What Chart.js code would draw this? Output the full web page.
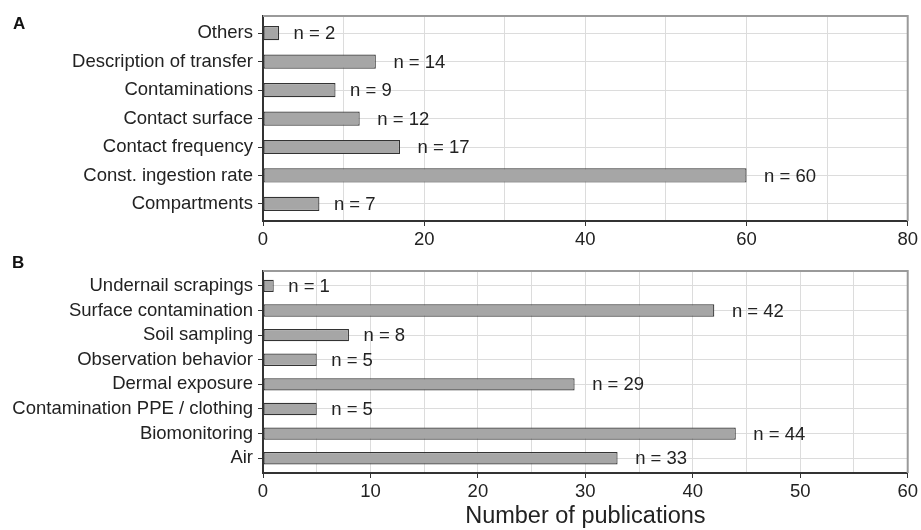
<!DOCTYPE html>
<html>
<head>
<meta charset="utf-8">
<script src="https://cdn.jsdelivr.net/npm/chart.js@4"></script>
<style>
  body { margin: 0; background: #fff; }
  #wrap { position: relative; width: 921px; height: 530px; }
  #wrap canvas { position: absolute; left: 0; }
  .panel { position: absolute; font: bold 17px "Liberation Sans", Arial, sans-serif; line-height: 1; color: #111; }
</style>
</head>
<body>
<div id="wrap">
  <canvas id="chartA" width="921" height="255" style="top:0"></canvas>
  <canvas id="chartB" width="921" height="275" style="top:255px"></canvas>
  <div class="panel" style="left:13px; top:15px">A</div>
  <div class="panel" style="left:12px; top:254px">B</div>
</div>
<script>
// panel A
var catsA = ['Others', 'Description of transfer', 'Contaminations', 'Contact surface',
             'Contact frequency', 'Const. ingestion rate', 'Compartments'];
var valuesA = [2, 14, 9, 12, 17, 60, 7];
var ticksA = [0, 20, 40, 60, 80];

// panel B
var catsB = ['Undernail scrapings', 'Surface contamination', 'Soil sampling', 'Observation behavior',
             'Dermal exposure', 'Contamination PPE / clothing', 'Biomonitoring', 'Air'];
var valuesB = [1, 42, 8, 5, 29, 5, 44, 33];
var ticksB = [0, 10, 20, 30, 40, 50, 60];

var FONT = '"Liberation Sans", Arial, sans-serif';
var TXT = '#222';

// "n = x" next to each bar
var nLabels = {
    id: 'nLabels',
    afterDatasetsDraw: function(chart) {
        var ctx = chart.ctx;
        var meta = chart.getDatasetMeta(0);
        var data = chart.data.datasets[0].data;
        ctx.save();
        ctx.font = '18.5px ' + FONT;
        ctx.fillStyle = TXT;
        ctx.textBaseline = 'middle';
        meta.data.forEach(function(bar, i) {
            var txt = 'n = ' + data[i].x;
            var w = ctx.measureText(txt).width;
            ctx.fillText(txt, bar.x + 0.3 * w + 2, bar.y + 1);
        });
        ctx.restore();
    }
};

// gray top/right panel border
var frame = {
    id: 'frame',
    afterDraw: function(chart) {
        var a = chart.chartArea, ctx = chart.ctx;
        ctx.save();
        ctx.strokeStyle = '#9a9a9a';
        ctx.lineWidth = 2;
        ctx.beginPath();
        ctx.moveTo(a.left, a.top);
        ctx.lineTo(a.right, a.top);
        ctx.lineTo(a.right, a.bottom);
        ctx.stroke();
        ctx.restore();
    }
};

function makeChart(id, cats, values, majors, padTop, xHeight, title) {
    var xMax = majors[majors.length - 1];
    var ctx = document.getElementById(id).getContext('2d');
    return new Chart(ctx, {
        type: 'bar',
        data: {
            datasets: [{
                data: values.map(function(v, i) { return { x: v, y: i }; }),
                backgroundColor: '#a6a6a6',
                borderColor: '#333333',
                borderWidth: 1.2,
                borderSkipped: false,
                barPercentage: 0.5,
                categoryPercentage: 1
            }]
        },
        options: {
            indexAxis: 'y',
            responsive: false,
            animation: false,
            layout: { padding: { top: padTop, right: 12, left: 0, bottom: 0 } },
            plugins: { legend: { display: false }, tooltip: { enabled: false } },
            scales: {
                x: {
                    type: 'linear',
                    min: 0,
                    max: xMax,
                    afterBuildTicks: function(s) {
                        var t = [];
                        majors.forEach(function(v, i) {
                            t.push({ value: v });
                            if (i < majors.length - 1) t.push({ value: (v + majors[i + 1]) / 2 });
                        });
                        s.ticks = t;
                    },
                    afterFit: function(s) { s.height = xHeight; },
                    ticks: {
                        autoSkip: false,
                        maxRotation: 0,
                        padding: 3,
                        color: TXT,
                        font: { family: FONT, size: 18.5 },
                        callback: function(v) { return majors.indexOf(v) >= 0 ? String(v) : ''; }
                    },
                    grid: {
                        color: '#dcdcdc',
                        lineWidth: 1,
                        tickLength: 5,
                        tickColor: function(c) {
                            return c.tick && majors.indexOf(c.tick.value) >= 0 ? '#333333' : 'rgba(0,0,0,0)';
                        }
                    },
                    border: { color: '#333333', width: 2 },
                    title: {
                        display: !!title,
                        text: title || '',
                        color: TXT,
                        font: { family: FONT, size: 23.5, lineHeight: 1.15 },
                        padding: 0
                    }
                },
                y: {
                    type: 'linear',
                    reverse: true,
                    offset: false,
                    min: -0.6,
                    max: cats.length - 0.4,
                    afterBuildTicks: function(s) {
                        s.ticks = cats.map(function(c, i) { return { value: i }; });
                    },
                    afterFit: function(s) { s.width = 263; },
                    ticks: {
                        autoSkip: false,
                        padding: 5,
                        color: TXT,
                        font: { family: FONT, size: 18.5 },
                        callback: function(v) { return cats[v]; }
                    },
                    grid: { offset: false, color: '#dcdcdc', lineWidth: 1, tickLength: 5, tickColor: '#333333' },
                    border: { color: '#333333', width: 2 }
                }
            }
        },
        plugins: [nLabels, frame]
    });
}

window.onload = function() {
    makeChart('chartA', catsA, valuesA, ticksA, 15, 34, null);
    makeChart('chartB', catsB, valuesB, ticksB, 13, 57, 'Number of publications');
};
</script>
</body>
</html>
